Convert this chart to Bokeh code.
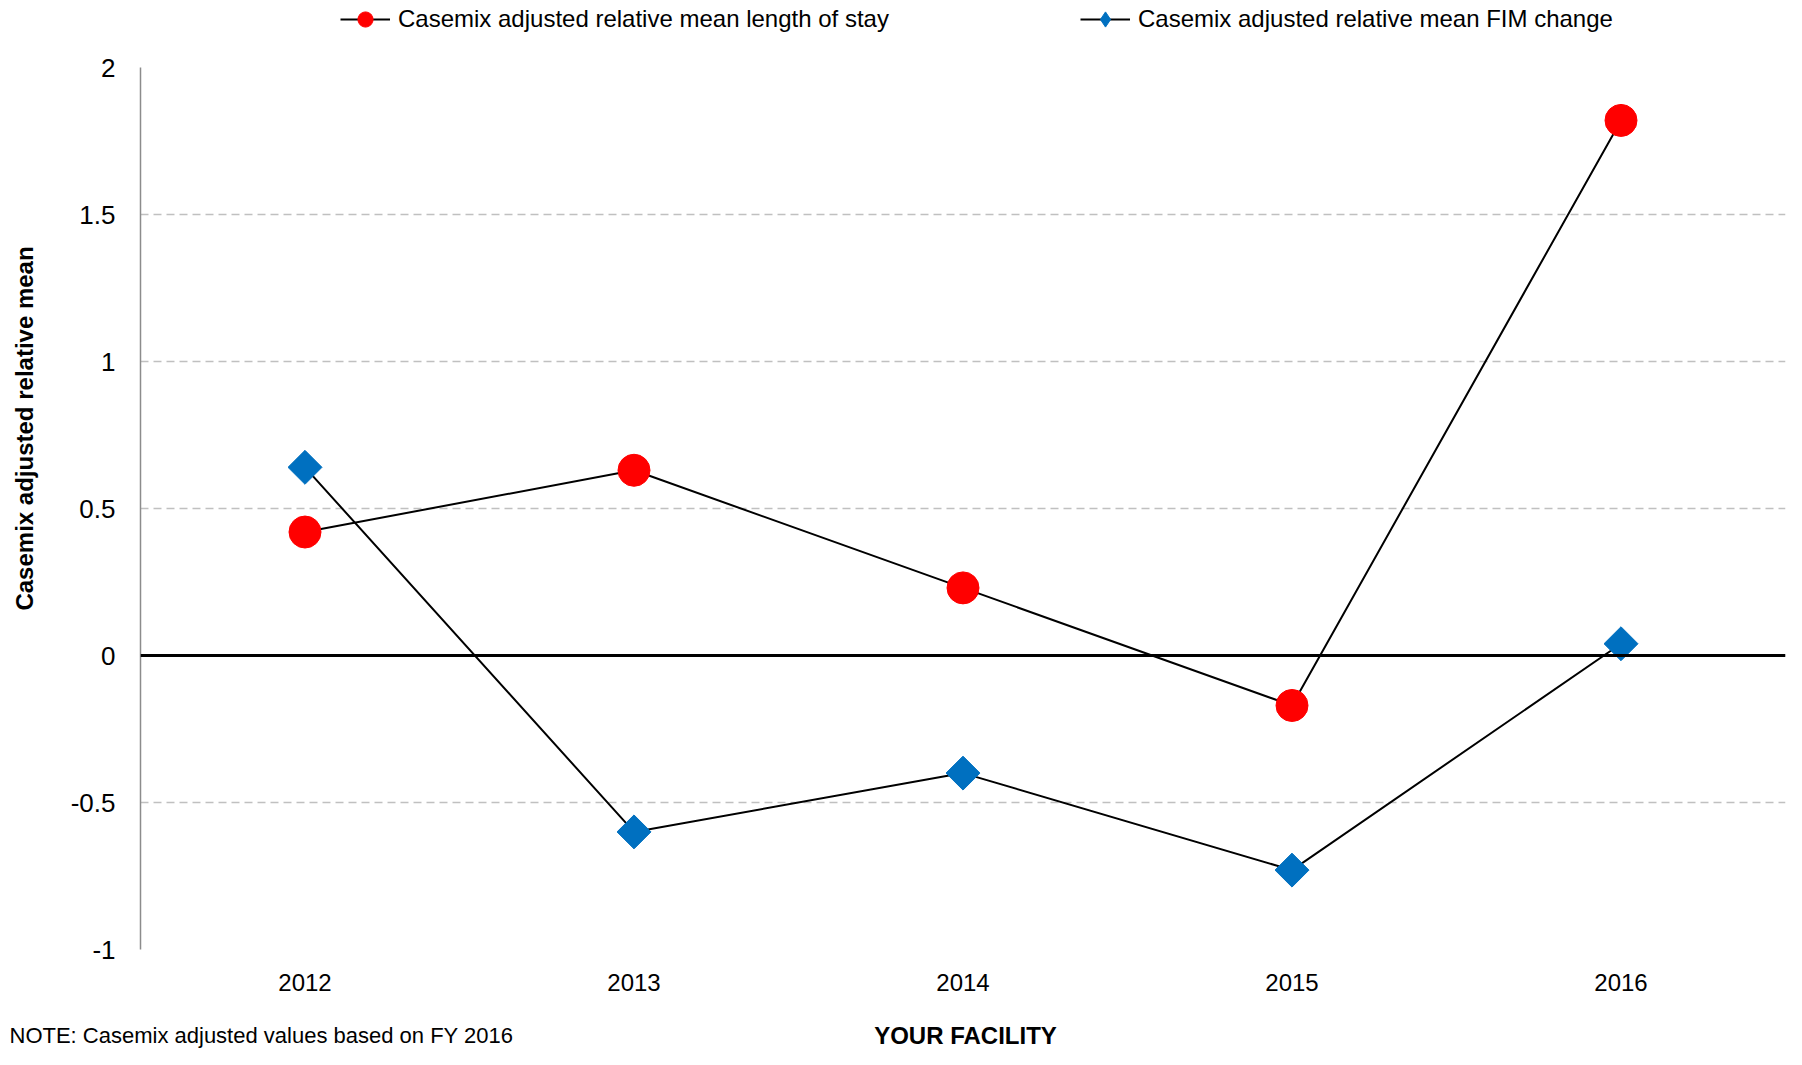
from bokeh.plotting import figure
from bokeh.models import (FactorRange, Range1d, FixedTicker, CustomJSTickFormatter,
                          Span, Legend, LegendItem, Label)
from bokeh.layouts import column
from bokeh.embed import file_html
from bokeh.resources import INLINE
import math

years = ["2012", "2013", "2014", "2015", "2016"]
los_values = [0.42, 0.63, 0.23, -0.17, 1.82]
fim_values = [0.64, -0.60, -0.40, -0.73, 0.04]
y_ticks = [-1, -0.5, 0, 0.5, 1, 1.5, 2]
los_label = "Casemix adjusted relative mean length of stay"
fim_label = "Casemix adjusted relative mean FIM change"
y_title = "Casemix adjusted relative mean"
x_title = "YOUR FACILITY"
note_text = "NOTE: Casemix  adjusted  values based on FY 2016"

FONT = "Liberation Sans"
RED, BLUE = "#ff0000", "#0070c0"

W, H = 1786, 1049
TOP_H, BOT_H = 38, 44
MAIN_H = H - TOP_H - BOT_H
FL, FT, FR, FB = 140, 67, 1785, 949   # frame edges in page px

HAS_FA = "frame_align" in figure().properties()

def series(fig, diamond="square", dsize=24, dangle=math.pi / 4):
    l1 = fig.line(years, los_values, line_color="black", line_width=2)
    s1 = fig.scatter(years, los_values, marker="circle", size=32, fill_color=RED, line_color=RED)
    l2 = fig.line(years, fim_values, line_color="black", line_width=2)
    s2 = fig.scatter(years, fim_values, marker=diamond, angle=dangle, size=dsize,
                     fill_color=BLUE, line_color=BLUE)
    return l1, s1, l2, s2

def strip(height, xr, yr):
    f = figure(width=W, height=height, output_backend="svg", toolbar_location=None,
               x_range=xr, y_range=yr, x_axis_location=None, y_axis_location=None,
               min_border=0, min_border_left=0, min_border_right=0,
               min_border_top=0, min_border_bottom=0)
    if HAS_FA:
        f.frame_align = False
    f.outline_line_color = None
    f.xgrid.visible = False
    f.ygrid.visible = False
    return f

XOFF = 0 if HAS_FA else FL

# ---- top strip: legend (series drawn out of view so the legend can use them)
top = strip(TOP_H, FactorRange(factors=years, range_padding=0), Range1d(50, 51))
t1, ts1, t2, ts2 = series(top, diamond="diamond", dsize=20, dangle=0)

def mk_legend(label, rends, x_left):
    lg = Legend(items=[LegendItem(label=label, renderers=rends)],
                location=(x_left - XOFF, 0),
                orientation="horizontal", padding=0, margin=0, spacing=0,
                glyph_width=50, glyph_height=TOP_H, label_standoff=8, label_height=TOP_H,
                label_text_font=FONT, label_text_font_size="24px",
                label_text_color="black", border_line_color=None,
                background_fill_alpha=0)
    top.add_layout(lg, "center")

mk_legend(los_label, [t1, ts1], 340)
mk_legend(fim_label, [t2, ts2], 1080)

# ---- main chart
p = figure(width=W, height=MAIN_H, output_backend="svg", toolbar_location=None,
           x_range=FactorRange(factors=years, range_padding=0), y_range=Range1d(-1, 2),
           min_border_left=FL, min_border_right=W - FR, min_border_top=FT - TOP_H,
           min_border_bottom=TOP_H + MAIN_H - FB)
p.outline_line_color = None

p.xaxis.axis_line_color = None
p.xaxis.major_tick_line_color = None
p.xaxis.minor_tick_line_color = None
p.xaxis.major_tick_out = 0
p.xaxis.major_tick_in = 0
p.xaxis.major_label_standoff = 24
p.xaxis.major_label_text_font = FONT
p.xaxis.major_label_text_font_size = "24px"
p.xaxis.major_label_text_color = "black"

p.yaxis.ticker = FixedTicker(ticks=y_ticks)
p.yaxis.formatter = CustomJSTickFormatter(code="return tick.toString()")
p.yaxis.axis_line_color = "#8c8c8c"
p.yaxis.axis_line_width = 1.5
p.yaxis.major_tick_line_color = None
p.yaxis.minor_tick_line_color = None
p.yaxis.major_tick_out = 0
p.yaxis.major_tick_in = 0
p.yaxis.major_label_standoff = 25
p.yaxis.major_label_text_font = FONT
p.yaxis.major_label_text_font_size = "26px"
p.yaxis.major_label_text_color = "black"
p.yaxis.axis_label = "\u00a0" * 24 + y_title
p.yaxis.axis_label_text_font = FONT
p.yaxis.axis_label_text_font_style = "bold"
p.yaxis.axis_label_text_font_size = "24px"
p.yaxis.axis_label_text_color = "black"
p.yaxis.axis_label_standoff = 30

p.xgrid.grid_line_color = None
p.ygrid.grid_line_color = "#c0c0c0"
p.ygrid.grid_line_dash = "8 5"
p.ygrid.grid_line_width = 1.5

p.add_layout(Span(location=0, dimension="width", line_color="black", line_width=3))
series(p)

# ---- bottom strip: note and x title
bot = strip(BOT_H, Range1d(0, W), Range1d(0, BOT_H))
ymid = 14
bot.add_layout(Label(x=9, y=ymid, text=note_text, text_font=FONT, text_font_size="22px",
                     text_color="black", text_align="left", text_baseline="middle"))
bot.add_layout(Label(x=965, y=ymid, text=x_title, text_font=FONT,
                     text_font_style="bold", text_font_size="24px", text_color="black",
                     text_align="center", text_baseline="middle"))

layout = column(top, p, bot, spacing=0)
open("out.html", "w").write(file_html(layout, INLINE))
